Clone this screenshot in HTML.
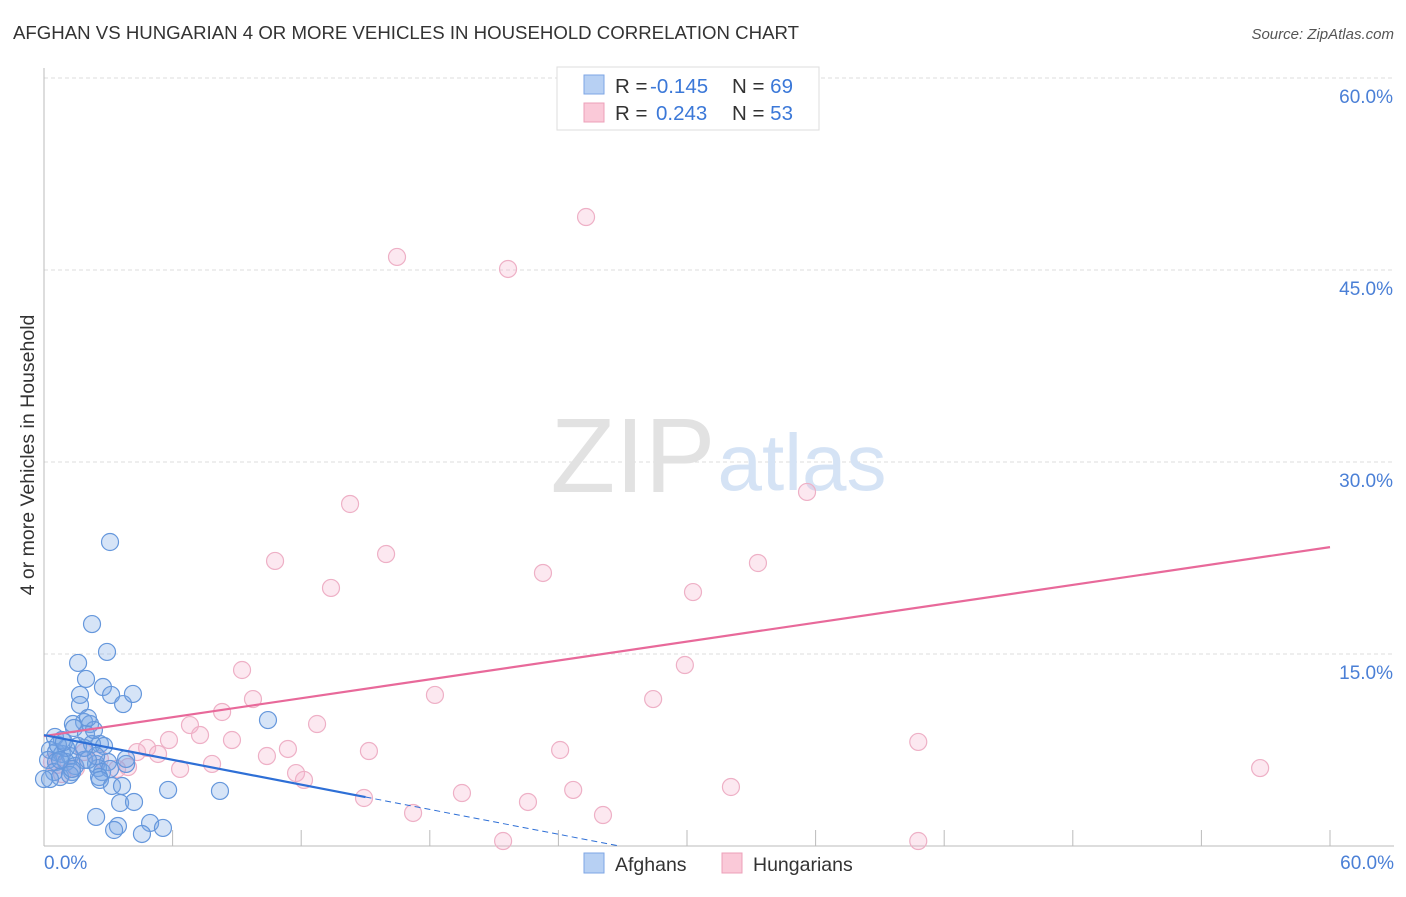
<!DOCTYPE html>
<html><head><meta charset="utf-8"><style>
body{margin:0;background:#fff;font-family:"Liberation Sans",sans-serif;}
svg text{font-family:"Liberation Sans",sans-serif;}
</style></head><body>
<svg id="chart" width="1406" height="892">
<text x="13" y="39" font-size="18" fill="#333" textLength="786" lengthAdjust="spacingAndGlyphs">AFGHAN VS HUNGARIAN 4 OR MORE VEHICLES IN HOUSEHOLD CORRELATION CHART</text>
<text x="1394" y="39" font-size="15" fill="#555" font-style="italic" text-anchor="end">Source: ZipAtlas.com</text>
<text transform="translate(34,455) rotate(-90)" font-size="19.5" fill="#333" text-anchor="middle">4 or more Vehicles in Household</text>
<g id="grid"></g>
<g>
<text x="633" y="492" font-size="106" fill="#e2e2e2" font-family="Liberation Serif" text-anchor="middle">ZIP</text>
<text x="802" y="490" font-size="80" fill="#d5e3f5" text-anchor="middle">atlas</text>
</g>
<line x1="44" y1="68" x2="44" y2="846" stroke="#bbb"/>
<line x1="44" y1="846" x2="1394" y2="846" stroke="#bbb"/>
<g id="xt"></g>
<g id="yl"></g>
<text x="44" y="869" font-size="19" fill="#4a7fd6">0.0%</text>
<text x="1394" y="869" font-size="19" fill="#4a7fd6" text-anchor="end">60.0%</text>
<g id="pts"></g>
<g id="lines"></g>
<g>
<rect x="557" y="67" width="262" height="63" fill="#fff" stroke="#ddd"/>
<rect x="584" y="75" width="20" height="19" fill="#b7d0f3" stroke="#7ea6e4"/>
<rect x="584" y="103" width="20" height="19" fill="#fac9d8" stroke="#eca0b9"/>
<text x="615" y="93" font-size="20.5" fill="#333">R = <tspan x="650" fill="#3b78d8">-0.145</tspan><tspan x="732">N = </tspan><tspan fill="#3b78d8">69</tspan></text>
<text x="615" y="120" font-size="20.5" fill="#333">R = <tspan x="656" fill="#3b78d8">0.243</tspan><tspan x="732">N = </tspan><tspan fill="#3b78d8">53</tspan></text>
</g>
<g>
<rect x="584" y="853" width="20" height="20" fill="#b7d0f3" stroke="#7ea6e4"/>
<text x="615" y="871" font-size="19.5" fill="#333">Afghans</text>
<rect x="722" y="853" width="20" height="20" fill="#fac9d8" stroke="#eca0b9"/>
<text x="753" y="871" font-size="19.5" fill="#333">Hungarians</text>
</g>
</svg>
<script>
const yTicks=[15,30,45,60];
const yTickLabels=["15.0%","30.0%","45.0%","60.0%"];
const xTickVals=[6,12,18,24,30,36,42,48,54,60];
const afghanX=[3.08,2.24,2.94,1.59,1.96,1.68,2.75,3.13,3.69,4.15,1.68,10.45,1.87,1.35,2.15,1.40,1.96,2.61,0.51,0.84,0.28,0.56,0.84,1.21,1.59,2.24,2.80,0.19,0.56,1.03,1.45,1.87,2.43,2.99,3.83,0.47,1.31,2.52,2.71,0.75,1.21,2.43,2.05,3.83,3.08,0.28,2.57,1.31,2.61,3.17,3.64,5.79,8.21,3.55,4.20,2.43,4.95,3.45,5.55,3.27,4.57,1.87,1.03,0.65,2.33,2.05,0.00,0.75,0.93];
const afghanY=[23.75,17.34,15.16,14.30,13.05,11.80,12.42,11.80,11.09,11.88,11.02,9.84,9.69,9.53,9.53,9.22,8.75,7.97,8.52,8.28,7.50,7.34,7.19,7.03,7.81,7.97,7.81,6.72,6.56,6.56,6.25,6.72,6.41,6.56,6.41,5.78,5.78,6.09,5.78,5.39,5.55,7.03,6.72,6.80,6.02,5.23,5.39,6.02,5.16,4.69,4.69,4.38,4.30,3.36,3.44,2.27,1.80,1.56,1.41,1.25,0.94,7.66,7.66,7.89,9.06,10.00,5.23,6.72,8.13];
const hungX=[25.29,16.47,21.65,14.28,35.60,10.78,15.96,13.39,23.28,33.31,30.28,9.24,29.90,9.75,18.24,28.42,8.31,6.81,12.74,7.28,5.83,8.77,40.79,24.08,15.16,11.38,4.81,5.32,10.40,7.84,6.35,3.92,3.41,11.76,12.13,0.84,0.61,1.49,56.74,32.05,24.69,19.50,14.93,22.58,17.22,26.08,21.42,40.79,4.34,2.61,1.87,0.37,34.02];
const hungY=[49.14,46.02,45.08,26.72,27.66,22.27,22.81,20.16,21.33,22.11,19.84,13.75,14.14,11.48,11.80,11.48,10.47,9.45,9.53,8.67,8.28,8.28,8.13,7.50,7.42,7.58,7.66,7.19,7.03,6.41,6.02,6.17,6.02,5.70,5.16,5.62,6.33,6.09,6.09,4.61,4.38,4.14,3.75,3.44,2.58,2.42,0.39,0.39,7.34,6.80,7.34,6.56,58.05];
// trend lines [intercept %, slope]
const afghanTrend=[8.67,-0.323];
const hungTrend=[8.59,0.246];
const ns="http://www.w3.org/2000/svg";
const X=v=>44+v/60*1286, Y=v=>846-v/60*768;
function mk(t,a,p){const e=document.createElementNS(ns,t);for(const k in a)e.setAttribute(k,a[k]);p.appendChild(e);return e;}
const grid=document.getElementById('grid'),yl=document.getElementById('yl'),xt=document.getElementById('xt');
yTicks.forEach((v,i)=>{
 const l=mk('line',{x1:44,x2:1394,y1:Y(v),y2:Y(v),stroke:'#ddd','stroke-dasharray':'4,3'},grid);
 
 
 const t=mk('text',{x:1393,y:Y(v)+25,'font-size':19,fill:'#4a7fd6','text-anchor':'end'},yl);
 t.textContent=yTickLabels[i];
 
 
});
xTickVals.forEach(v=>{
 const l=mk('line',{x1:X(v),x2:X(v),y1:830,y2:846,stroke:'#bbb'},xt);
 
 
});
const pts=document.getElementById('pts');
hungX.forEach((v,i)=>{
 const c=mk('circle',{cx:X(v),cy:Y(hungY[i]),r:8.5,fill:'rgba(246,180,204,0.3)',stroke:'#eeb0c6','stroke-width':1.2},pts);
 
 
});
afghanX.forEach((v,i)=>{
 const c=mk('circle',{cx:X(v),cy:Y(afghanY[i]),r:8.5,fill:'rgba(120,165,230,0.3)',stroke:'#6597dc','stroke-width':1.2},pts);
 
 
});
const lines=document.getElementById('lines');
const [ha,hb]=hungTrend;
let l1=mk('line',{x1:X(0),y1:Y(ha),x2:X(60),y2:Y(ha+hb*60),stroke:'#e8699a','stroke-width':2.2},lines);


const [aa,ab]=afghanTrend;
const xEnd=Math.min(60,-aa/ab);
let l2=mk('line',{x1:X(0),y1:Y(aa),x2:X(15),y2:Y(aa+ab*15),stroke:'#2e6fd6','stroke-width':2.2},lines);


let l3=mk('line',{x1:X(15),y1:Y(aa+ab*15),x2:X(xEnd),y2:Y(aa+ab*xEnd),stroke:'#2e6fd6','stroke-width':1,'stroke-dasharray':'6,4'},lines);


</script>
</body></html>
